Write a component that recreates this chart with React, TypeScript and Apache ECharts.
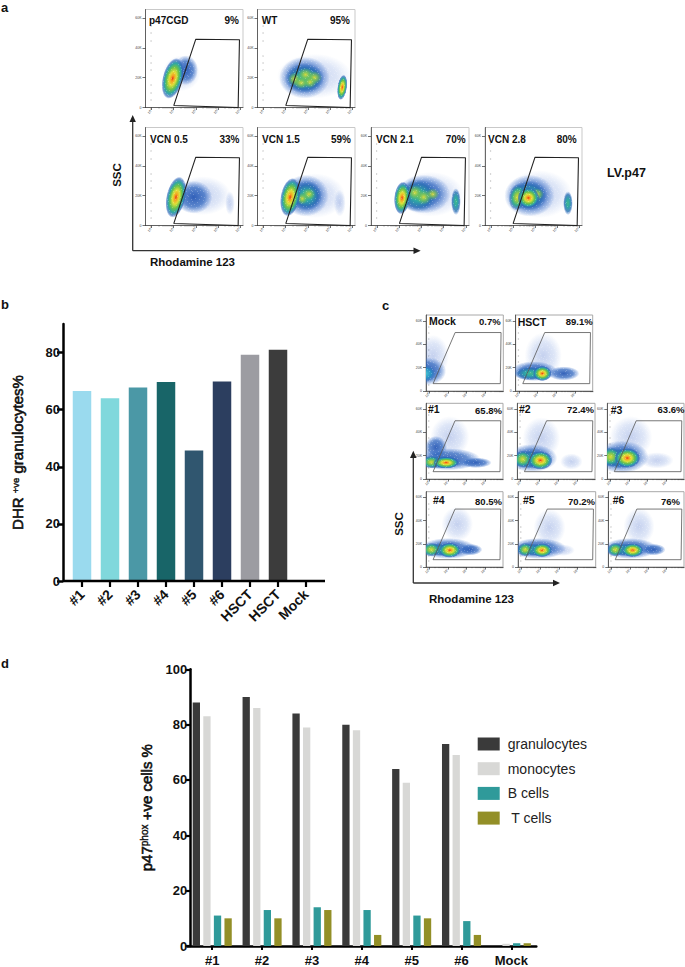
import React, { useEffect, useRef } from "react";
import * as echarts from "echarts";

// ---------- bar chart data ----------
const dhrCategories = ["#1", "#2", "#3", "#4", "#5", "#6", "HSCT", "HSCT", "Mock"];
const dhrValues = [66.5, 64, 67.8, 69.7, 45.7, 69.9, 79.2, 81, 0];
const dhrColors = ["#9adaee", "#80d8dc", "#4b98a6", "#186568", "#30566f", "#2c3e5f", "#9c9ca2", "#3c3c3c", "#3c3c3c"];

const p47Categories = ["#1", "#2", "#3", "#4", "#5", "#6", "Mock"];
const granulocytes = [88, 90, 84, 80, 64, 73, 0];
const monocytes = [83, 86, 79, 78, 59, 69, 0.8];
const bCells = [11, 13, 14, 13, 11, 9, 1];
const tCells = [10, 10, 13, 4, 10, 4, 1];

// ---------- flow plot data: [log10 x, SSC (K), x extent, y extent, tilt deg, density level] ----------
type Blob = number[];
const blobsP47: Blob[] = [[1.35, 23, 0.85, 12, 0, 0], [1.55, 25, 0.55, 10, 0, 1], [0.95, 19.5, 0.46, 14, 14, 4]];
const blobsWT: Blob[] = [[2.3, 21, 1.7, 15, 0, 0], [1.85, 20, 1.15, 14, 0, 1], [1.85, 19.5, 0.9, 10, 0, 2], [1.4, 19, 0.3, 4.5, 0, 6], [1.9, 22, 0.35, 4.5, 0, 6], [2.3, 20, 0.35, 4.5, 0, 6], [1.7, 16.5, 0.35, 4, 0, 6], [2.1, 17, 0.3, 4, 0, 6], [3.56, 13.5, 0.22, 8.5, 8, 4]];
const blobsV05: Blob[] = [[2.3, 20, 1.3, 13, 0, 0], [1.9, 19, 0.85, 11, 0, 1], [3.55, 15, 0.22, 8, 0, 0], [1.1, 19, 0.44, 14, 12, 4]];
const blobsV15: Blob[] = [[2.3, 20, 1.4, 15, 0, 0], [1.9, 20, 1.05, 14, 0, 1], [1.95, 20, 0.7, 10, 0, 2], [2.05, 21, 0.3, 4, 0, 6], [1.75, 18, 0.25, 4, 0, 6], [1.2, 19, 0.44, 13, 10, 4], [3.45, 15, 0.27, 9, 0, 0]];
const blobsV21: Blob[] = [[2.4, 21, 1.5, 15, 0, 0], [2.1, 21, 1.2, 13, 0, 1], [1.85, 20, 0.85, 11, 0, 2], [1.7, 22, 0.35, 5, 0, 6], [2.1, 19, 0.35, 5, 0, 6], [2.5, 21, 0.3, 4, 0, 6], [1.12, 18.5, 0.36, 11, 5, 4], [3.55, 16, 0.22, 9, 0, 2]];
const blobsV28: Blob[] = [[2.2, 21, 1.5, 16, 0, 0], [1.75, 20, 1.15, 14, 0, 1], [1.7, 20, 0.85, 10, 0, 2], [1.2, 19, 0.4, 9, 8, 3], [2.1, 21, 0.3, 4, 0, 6], [1.7, 18.5, 0.5, 7, 0, 4], [3.5, 15, 0.22, 8, 0, 2]];

const blobsMock: Blob[] = [[0.2, 30, 0.85, 18, 0, 0], [-0.1, 17, 1.0, 12, 0, 1], [-0.2, 15, 0.55, 7.5, 0, 5]];
const blobsHSCT: Blob[] = [[1.3, 30, 1.0, 20, 0, 0], [2.4, 15, 0.85, 6, 0, 1], [0.8, 17, 1.25, 8.5, 0, 1], [0.6, 15, 0.85, 6, 0, 2], [1.25, 15, 0.5, 6.5, 0, 4]];
const blobs1: Blob[] = [[1.1, 36, 1.05, 18, 0, 0], [0.35, 27, 0.6, 10, 0, 1], [1, 17, 1.75, 9.5, 0, 1], [0.6, 14.5, 1.15, 5.5, 0, 2], [2.5, 14, 0.85, 4.5, 0, 1], [0.1, 14.5, 0.5, 5.5, 0, 3], [0.9, 14, 0.7, 5, 0, 4]];
const blobs2: Blob[] = [[1.1, 35, 1, 18, 0, 0], [0.6, 18, 1.35, 12, 0, 1], [2.7, 15, 0.6, 7, 0, 0], [0.5, 17, 1, 8, 0, 2], [0.1, 17, 0.5, 7.5, 0, 3], [1.05, 16, 0.65, 8, 0, 4]];
const blobs3: Blob[] = [[1.1, 36, 1.15, 18, 0, 0], [0.6, 19, 1.45, 14, 0, 1], [2.5, 16, 0.9, 7, 0, 0], [0.45, 18, 1.05, 9, 0, 2], [0, 19, 0.55, 8.5, 0, 3], [0.9, 18, 0.7, 8.5, 0, 4]];
const blobs4: Blob[] = [[1.5, 37, 0.85, 15, 0, 0], [1, 16, 1.5, 9, 0, 1], [2.2, 15, 0.65, 5, 0, 1], [0.6, 15, 1, 5.5, 0, 2], [0.1, 15, 0.5, 6, 0, 3], [1.1, 14.5, 0.6, 6.5, 0, 4]];
const blobs5: Blob[] = [[1.5, 34, 0.85, 16, 0, 0], [0.9, 16, 1.5, 9, 0, 1], [2.2, 14.5, 0.65, 5, 0, 0], [0.6, 15, 0.95, 5.5, 0, 2], [0.2, 15, 0.42, 6, 0, 3], [1.1, 14.5, 0.55, 6, 0, 4]];
const blobs6: Blob[] = [[1.5, 35, 0.85, 16, 0, 0], [1, 16, 1.5, 9, 0, 1], [2.3, 15, 0.65, 5, 0, 1], [0.7, 15, 1, 5.5, 0, 2], [0.2, 15, 0.45, 6, 0, 3], [1.15, 14.5, 0.6, 6, 0, 4]];

const gateA = [[1.0, 1.3], [2.0, 45.8], [3.98, 45.4], [3.92, 0], [1.0, 1.3]];
const gateC = [[0.2, 6.3], [1.38, 50], [3.84, 50], [3.8, 6.3], [0.2, 6.3]];

const xTickValues = [0, 1, 2, 3, 4];
const xTickLabels = ["10⁰", "10¹", "10²", "10³", "10⁴"];
const yTickValues = [0, 20, 40, 60];
const yTickLabels = ["0", "20K", "40K", "60K"];
const xMinorTicks = [0.3, 0.48, 0.6, 0.7, 0.78, 0.85, 0.9, 0.95, 1.3, 1.48, 1.6, 1.7, 1.78, 1.85, 1.9, 1.95, 2.3, 2.48, 2.6, 2.7, 2.78, 2.85, 2.9, 2.95, 3.3, 3.48, 3.6, 3.7, 3.78, 3.85, 3.9, 3.95];
const yMinorTicks = [5, 10, 15, 25, 30, 35, 45, 50, 55];

// ---------- palette for density gradients ----------
const densityStops: [number, string][][] = [
  [[0, "rgba(60,100,200,0.3)"], [0.6, "rgba(70,115,210,0.18)"], [1, "rgba(80,125,215,0)"]],
  [[0, "rgba(35,85,180,0.92)"], [0.6, "rgba(45,100,190,0.72)"], [0.85, "rgba(70,120,205,0.32)"], [1, "rgba(70,120,210,0)"]],
  [[0, "#46b98a"], [0.35, "#2fa7a5"], [0.72, "rgba(40,110,180,0.8)"], [1, "rgba(60,115,200,0)"]],
  [[0, "#dcd93c"], [0.3, "#8dca4a"], [0.6, "#36ad90"], [0.85, "rgba(45,110,180,0.55)"], [1, "rgba(60,115,200,0)"]],
  [[0, "#e8341c"], [0.14, "#f6a021"], [0.34, "#dfe03a"], [0.55, "#6cc24a"], [0.74, "#2fa7a5"], [0.9, "rgba(45,100,185,0.65)"], [1, "rgba(60,115,200,0)"]],
  [[0, "#46c3cf"], [0.55, "#2a8fc4"], [1, "rgba(45,100,190,0)"]],
  [[0, "rgba(222,220,60,0.95)"], [0.45, "rgba(140,202,74,0.7)"], [1, "rgba(90,190,90,0)"]],
];

// white flecks laid over the density areas, so that they read as single dots (x, y in a 24px tile)
const speckTile = [[1,2],[6,1],[9,4],[15,0],[19,3],[22,1],[3,6],[7,7],[12,5],[17,6],[20,4],[0,9],[5,10],[11,8],[14,10],[19,9],[23,7],[2,12],[8,13],[13,11],[18,14],[21,11],[4,15],[10,16],[15,14],[20,16],[23,13],[1,18],[6,19],[12,18],[16,20],[22,18],[3,21],[8,22],[13,21],[18,23],[21,20],[0,23],[5,23],[11,23],[15,22],[23,22]];

const panelsA = [
  { title: "p47CGD", pct: "9%", blobs: blobsP47, box: [145.5, 9.5, 243, 107.5], tx: 149, px: 239, ty: 20, py: 20 },
  { title: "WT", pct: "95%", blobs: blobsWT, box: [257.5, 9.5, 355, 107.5], tx: 261.7, px: 350, ty: 20, py: 20 },
  { title: "VCN 0.5", pct: "33%", blobs: blobsV05, box: [145.5, 127.5, 243, 225.5], tx: 150, px: 239.5, ty: 139.5, py: 139.5 },
  { title: "VCN 1.5", pct: "59%", blobs: blobsV15, box: [257.5, 127.5, 355, 225.5], tx: 262, px: 351, ty: 139.5, py: 139.5 },
  { title: "VCN 2.1", pct: "70%", blobs: blobsV21, box: [371, 127.5, 469, 225.5], tx: 376, px: 465.7, ty: 139, py: 139 },
  { title: "VCN 2.8", pct: "80%", blobs: blobsV28, box: [485, 127.5, 582, 225.5], tx: 488, px: 576.7, ty: 139, py: 139 },
];
const panelsC = [
  { title: "Mock", pct: "0.7%", blobs: blobsMock, box: [426, 315, 503.3, 391], tx: 429, px: 500.7, ty: 320.7, py: 321 },
  { title: "HSCT", pct: "89.1%", blobs: blobsHSCT, box: [515.7, 315, 592.7, 391], tx: 517.7, px: 592.7, ty: 322, py: 321 },
  { title: "#1", pct: "65.8%", blobs: blobs1, box: [426, 403.3, 503, 479], tx: 428, px: 502, ty: 409, py: 410 },
  { title: "#2", pct: "72.4%", blobs: blobs2, box: [517.3, 403.3, 595, 479], tx: 519, px: 594, ty: 409, py: 409 },
  { title: "#3", pct: "63.6%", blobs: blobs3, box: [607.3, 403.3, 684, 479], tx: 610.7, px: 684.5, ty: 410, py: 409 },
  { title: "#4", pct: "80.5%", blobs: blobs4, box: [426, 491.7, 503, 567], tx: 433, px: 502, ty: 500, py: 501 },
  { title: "#5", pct: "70.2%", blobs: blobs5, box: [518, 491.7, 595.7, 567], tx: 523, px: 595, ty: 500, py: 501 },
  { title: "#6", pct: "76%", blobs: blobs6, box: [608.3, 491.7, 684, 567], tx: 612.7, px: 680, ty: 500, py: 501 },
];

const FONT = '"Liberation Sans", Arial, sans-serif';

function makeSpeckle() {
  const c = document.createElement("canvas");
  c.width = 24;
  c.height = 24;
  const g = c.getContext("2d")!;
  g.fillStyle = "rgba(255,255,255,0.22)";
  speckTile.forEach(([x, y]) => g.fillRect(x, y, 1, 1));
  return c;
}

function buildOption() {
  const grid: any[] = [];
  const xAxis: any[] = [];
  const yAxis: any[] = [];
  const series: any[] = [];
  const graphic: any[] = [];
  const speckle = makeSpeckle();

  const addText = (text: string, x: number, y: number, size: number, align = "left", weight = "bold", rotation = 0) =>
    graphic.push({
      type: "text", x, y, rotation, z: 50,
      style: { text, x: 0, y: 0, fontSize: size, fontWeight: weight, fontFamily: FONT, fill: "#111", align, verticalAlign: "middle" },
    });
  const addLine = (x1: number, y1: number, x2: number, y2: number, color = "#333", w = 1.3) =>
    graphic.push({ type: "line", z: 50, shape: { x1, y1, x2, y2 }, style: { stroke: color, lineWidth: w } });
  const addTri = (pts: number[][]) =>
    graphic.push({ type: "polygon", z: 50, shape: { points: pts }, style: { fill: "#222" } });

  const addFlow = (p: any, xr: number[], yMax: number, gate: number[][], frameColor: string, gateColor: string, gateWidth: number, titleSize: number, pctSize: number) => {
    const gi = grid.length;
    const [l, t, r, b] = p.box;
    grid.push({ left: l, top: t, width: r - l, height: b - t, show: true, borderColor: frameColor, borderWidth: 1, backgroundColor: "#fff" });
    const xi = xAxis.length;
    const yi = yAxis.length;
    const axisLine = { show: true, onZero: false, lineStyle: { color: "#333", width: 0.7 } };
    xAxis.push({
      type: "value", gridIndex: gi, min: xr[0], max: xr[1], position: "bottom", splitLine: { show: false }, axisLine,
      axisTick: { show: true, length: 2.5, customValues: xTickValues, lineStyle: { color: "#333", width: 0.7 } },
      axisLabel: { show: true, customValues: xTickValues, rotate: 45, fontSize: 3.5, margin: 2.5, color: "#444", fontFamily: FONT, formatter: (v: number) => xTickLabels[xTickValues.indexOf(v)] ?? "" },
    });
    xAxis.push({
      type: "value", gridIndex: gi, min: xr[0], max: xr[1], position: "bottom", splitLine: { show: false }, axisLine: { show: false },
      axisTick: { show: true, length: 1.2, customValues: xMinorTicks, lineStyle: { color: "#333", width: 0.4 } }, axisLabel: { show: false },
    });
    yAxis.push({
      type: "value", gridIndex: gi, min: 0, max: yMax, position: "left", splitLine: { show: false }, axisLine,
      axisTick: { show: true, length: 3, customValues: yTickValues, lineStyle: { color: "#333", width: 0.7 } },
      axisLabel: { show: true, customValues: yTickValues, fontSize: 3.5, margin: 4, color: "#444", fontFamily: FONT, formatter: (v: number) => yTickLabels[yTickValues.indexOf(v)] ?? "" },
    });
    yAxis.push({
      type: "value", gridIndex: gi, min: 0, max: yMax, position: "left", splitLine: { show: false }, axisLine: { show: false },
      axisTick: { show: true, length: 1.2, customValues: yMinorTicks, lineStyle: { color: "#333", width: 0.4 } }, axisLabel: { show: false },
    });
    series.push({
      type: "custom", xAxisIndex: xi, yAxisIndex: yi, clip: true, silent: true, z: 2,
      encode: { x: 0, y: 1 }, data: p.blobs,
      renderItem: (_: any, api: any) => {
        const c = api.coord([api.value(0), api.value(1)]);
        const s = api.size([api.value(2) * 2, api.value(3) * 2], [api.value(0), api.value(1)]);
        return {
          type: "ellipse", x: c[0], y: c[1], rotation: (-api.value(4) * Math.PI) / 180,
          shape: { cx: 0, cy: 0, rx: s[0] / 2, ry: s[1] / 2 },
          style: {
            fill: {
              type: "radial", x: 0.5, y: 0.5, r: 0.5,
              colorStops: densityStops[api.value(5)].map(([offset, color]) => ({ offset, color })),
            },
          },
        };
      },
    });
    graphic.push({
      type: "rect", z: 3, silent: true, shape: { x: l + 1, y: t + 1, width: r - l - 2, height: b - t - 2 },
      style: { fill: { image: speckle, repeat: "repeat" } },
    });
    series.push({
      type: "line", xAxisIndex: xi, yAxisIndex: yi, data: gate, showSymbol: false, silent: true, z: 5,
      lineStyle: { color: gateColor, width: gateWidth },
    });
    addText(p.title, p.tx, p.ty, titleSize);
    addText(p.pct, p.px, p.py, pctSize, "right");
  };

  panelsA.forEach((p) => addFlow(p, [-0.28, 4.14], 65.7, gateA, "#c9c9c9", "#222", 1.1, 10, 10));
  panelsC.forEach((p) => addFlow(p, [-0.18, 3.96], 65, gateC, "#a8a8a8", "#555", 0.8, 10.5, 9.5));

  // panel b
  {
    const gi = grid.length;
    grid.push({ left: 68, top: 324, width: 252, height: 257 });
    xAxis.push({
      type: "category", gridIndex: gi, data: dhrCategories, position: "bottom",
      axisLine: { show: false },
      axisTick: { show: true, alignWithLabel: true, length: 6, lineStyle: { color: "#000", width: 2.2 } },
      axisLabel: { interval: 0, rotate: 45, fontSize: 14, fontWeight: "bold", color: "#111", margin: 11, fontFamily: FONT },
    });
    yAxis.push({
      type: "value", gridIndex: gi, min: 0, max: 90, interval: 20, offset: 5, splitLine: { show: false },
      axisLine: { show: true, lineStyle: { color: "#000", width: 2.5 } },
      axisTick: { show: true, length: 6, lineStyle: { color: "#000", width: 2.5 } },
      axisLabel: { fontSize: 13, fontWeight: "bold", color: "#111", margin: 3, fontFamily: FONT, showMaxLabel: false },
      name: "{n|DHR }{s|+ve}{n| granulocytes%}", nameLocation: "middle", nameGap: 38,
      nameTextStyle: {
        rich: {
          n: { fontSize: 15, fontFamily: FONT, color: "#111", textBorderColor: "#111", textBorderWidth: 0.6 },
          s: { fontSize: 9.5, fontFamily: FONT, color: "#111", verticalAlign: "top", textBorderColor: "#111", textBorderWidth: 0.4 },
        },
      },
    });
    series.push({
      type: "bar", xAxisIndex: xAxis.length - 1, yAxisIndex: yAxis.length - 1, barWidth: 18.5, silent: true,
      data: dhrValues.map((value, i) => ({ value, itemStyle: { color: dhrColors[i] } })),
    });
    addLine(63, 581, 325, 581, "#000", 2.5);
  }

  // panel d
  {
    const gi = grid.length;
    grid.push({ left: 187.3, top: 669.3, width: 349, height: 277.4 });
    xAxis.push({
      type: "category", gridIndex: gi, data: p47Categories, position: "bottom",
      axisLine: { show: true, lineStyle: { color: "#000", width: 2.5 } },
      axisTick: { show: true, alignWithLabel: true, length: 4, lineStyle: { color: "#000", width: 2 } },
      axisLabel: { interval: 0, fontSize: 13, fontWeight: "bold", color: "#111", margin: 8, fontFamily: FONT },
    });
    yAxis.push({
      type: "value", gridIndex: gi, min: 0, max: 100, interval: 20, offset: -3, splitLine: { show: false },
      axisLine: { show: true, lineStyle: { color: "#000", width: 2.5 } },
      axisTick: { show: true, length: 5, lineStyle: { color: "#000", width: 2.2 } },
      axisLabel: { fontSize: 13, fontWeight: "bold", color: "#111", margin: 3, fontFamily: FONT },
      name: "{n|p47}{s|phox}{n| +ve cells %}", nameLocation: "middle", nameGap: 27,
      nameTextStyle: {
        rich: {
          n: { fontSize: 15, fontFamily: FONT, color: "#111", textBorderColor: "#111", textBorderWidth: 0.6 },
          s: { fontSize: 10, fontFamily: FONT, color: "#111", verticalAlign: "top", textBorderColor: "#111", textBorderWidth: 0.4 },
        },
      },
    });
    const xi = xAxis.length - 1;
    const yi = yAxis.length - 1;
    const rows: [string, number[], string][] = [
      ["granulocytes", granulocytes, "#3a3a3a"],
      ["monocytes", monocytes, "#d8d8d6"],
      ["B cells", bCells, "#2f9a9a"],
      [" T cells", tCells, "#938f27"],
    ];
    rows.forEach(([name, data, color]) =>
      series.push({ type: "bar", name, xAxisIndex: xi, yAxisIndex: yi, data, barWidth: 7.3, barGap: "45%", silent: true, itemStyle: { color } })
    );
  }

  // labels
  addText("a", 1, 7, 13);
  addText("b", 1, 304, 13);
  addText("c", 382, 305, 13);
  addText("d", 1, 663, 13);
  addText("LV.p47", 607, 173, 12.5);
  addText("SSC", 117, 175, 11.5, "center", "bold", Math.PI / 2);
  addText("Rhodamine 123", 150, 262, 11.5);
  addText("SSC", 399, 524, 11.5, "center", "bold", Math.PI / 2);
  addText("Rhodamine 123", 429, 599, 11.5);

  addLine(132.7, 250.7, 132.7, 120);
  addTri([[132.7, 115], [129.5, 122], [135.9, 122]]);
  addLine(132.7, 250.7, 415, 250.7);
  addTri([[420.7, 250.7], [413.5, 247.5], [413.5, 253.9]]);
  addLine(413.3, 583, 413.3, 456);
  addTri([[413.3, 450.7], [410, 458], [416.6, 458]]);
  addLine(413.3, 583, 555, 583);
  addTri([[560, 583], [553, 579.8], [553, 586.2]]);

  return {
    animation: false,
    backgroundColor: "#fff",
    textStyle: { fontFamily: FONT },
    grid, xAxis, yAxis, series, graphic,
    legend: {
      show: true, orient: "vertical", left: 477.7, top: 737, itemWidth: 22, itemHeight: 13, itemGap: 10.7, padding: 0,
      data: ["granulocytes", "monocytes", "B cells", " T cells"],
      selectedMode: false, icon: "rect",
      textStyle: { fontSize: 14, color: "#222", fontFamily: FONT, padding: [0, 0, 0, 3] },
    },
  };
}

export default function App() {
  const ref = useRef<HTMLDivElement>(null);
  useEffect(() => {
    const chart = echarts.init(ref.current!, undefined, { renderer: "svg" });
    chart.setOption(buildOption() as any);
    return () => chart.dispose();
  }, []);
  return <div ref={ref} style={{ position: "absolute", left: 0, top: 0, width: 685, height: 967, background: "#fff" }} />;
}
